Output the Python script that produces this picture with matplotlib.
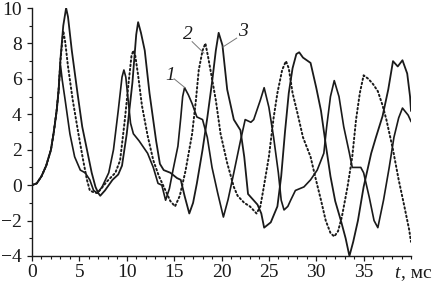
import matplotlib
matplotlib.use("Agg")
import matplotlib.pyplot as plt
from matplotlib.ticker import MultipleLocator

# ---- data (t in ms) ----
t1 = [0, 0.5, 1.0, 1.5, 2.0, 2.3, 2.6, 2.8, 3.0, 3.2, 3.5, 4.0, 4.5, 5.1, 5.6, 6.1, 6.5, 6.9,
      7.4, 8.1, 8.6, 9.1, 9.5, 9.7, 9.9, 10.4, 10.7, 11.3, 12.2, 12.8, 13.3, 13.7, 14.1, 14.5,
      14.9, 15.4, 15.7, 15.9, 16.1, 16.5, 16.9, 17.4, 18.0, 18.5, 19.0, 19.6, 20.2, 20.7, 21.3,
      22.0, 22.5, 23.1, 23.4, 24.1, 24.5, 25.0, 25.5, 26.0, 26.3, 26.6, 27.0, 27.3, 27.8, 28.7,
      29.4, 30.1, 30.8, 31.1, 31.5, 31.9, 32.4, 32.9, 33.5, 33.8, 34.7, 35.0, 35.6, 36.1, 36.5,
      37.1, 37.7, 38.2, 38.7, 39.1, 39.7, 40.0]
y1 = [0, 0.1, 0.5, 1.1, 2.0, 3.0, 4.2, 5.3, 6.8, 5.9, 4.8, 2.9, 1.6, 0.85, 0.7, 0.3, -0.3, -0.45,
      -0.1, 0.7, 2.0, 4.2, 6.1, 6.5, 6.1, 3.5, 2.9, 2.5, 1.8, 1.0, 0.1, 0.0, -0.85, -0.2,
      0.9, 2.2, 3.8, 5.0, 5.5, 5.1, 4.6, 3.85, 3.7, 2.7, 1.0, -0.45, -1.8, -0.8, 0.7,
      2.5, 3.7, 3.55, 3.7, 4.8, 5.5, 4.4, 2.7, 0.7, -0.85, -1.4, -1.2, -0.85, -0.3, -0.1,
      0.3, 0.85, 1.8, 3.3, 5.0, 5.9, 5.0, 3.3, 1.8, 1.0, 1.0, 0.7, -0.7, -2.0, -2.4,
      -0.85, 1.0, 2.7, 3.8, 4.35, 3.95, 3.6]

t2 = [0, 0.5, 1.0, 1.5, 2.0, 2.3, 2.6, 2.8, 3.0, 3.3, 3.5, 3.8, 4.3, 4.9, 5.4, 5.8, 6.1, 6.5,
      6.9, 7.3, 7.9, 8.8, 9.3, 9.8, 10.2, 10.5, 10.7, 10.9, 11.2, 11.6, 12.2, 12.8, 13.4, 14.0,
      14.6, 15.1, 15.6, 16.2, 16.6, 16.9, 17.3, 17.6, 18.0, 18.3, 18.6, 19.0, 19.4, 19.9, 20.6,
      21.3, 21.7, 22.4, 23.0, 23.7, 24.1, 24.4, 25.0, 25.5, 25.9, 26.4, 26.8, 27.1, 27.5, 28.0,
      28.6, 29.4, 29.9, 30.5, 31.0, 31.5, 31.9, 32.3, 32.7, 33.3, 33.8, 34.2, 34.6, 35.0, 35.5,
      36.0, 36.5, 37.0, 37.4, 38.1, 38.7, 39.3, 39.8, 40.0]
y2 = [0, 0.1, 0.5, 1.1, 2.0, 3.0, 4.2, 5.3, 7.0, 8.7, 8.1, 6.7, 4.8, 2.9, 1.4, 0.3, -0.3, -0.4,
      -0.45, -0.2, 0.2, 0.7, 1.4, 3.7, 5.8, 7.3, 7.6, 7.3, 6.2, 4.5, 2.8, 1.4, 0.5, -0.2,
      -0.9, -1.2, -0.6, 0.8, 2.0, 2.9, 4.8, 6.5, 7.6, 8.0, 7.2, 6.0, 4.8, 2.9, 1.25,
      -0.1, -0.6, -1.0, -1.2, -1.6, -1.2, -0.3, 1.6, 3.8, 5.2, 6.5, 7.0, 6.6, 5.2, 4.1,
      2.7, 1.6, 0.45, -0.85, -2.0, -2.7, -2.9, -2.6, -1.8, -0.1, 1.6, 3.7, 5.2, 6.2, 6.0,
      5.7, 5.3, 4.5, 3.7, 2.0, 0.3, -1.2, -2.5, -3.2]

t3 = [0, 0.5, 1.0, 1.5, 2.0, 2.3, 2.6, 2.8, 3.0, 3.3, 3.6, 3.8, 4.2, 4.8, 5.3, 5.8, 6.3, 6.7,
      7.0, 7.2, 7.7, 8.5, 9.1, 9.5, 10.0, 10.6, 11.0, 11.2, 11.5, 11.9, 12.4, 13.1, 13.5, 13.9,
      14.6, 15.3, 15.7, 16.1, 16.6, 17.0, 17.4, 18.0, 18.5, 19.0, 19.4, 19.7, 20.1, 20.6, 21.3,
      22.0, 22.4, 22.8, 23.3, 23.8, 24.2, 24.5, 25.2, 25.9, 26.3, 26.7, 27.1, 27.5, 27.9, 28.2,
      28.6, 29.4, 30.0, 30.5, 31.0, 31.5, 32.0, 32.6, 33.1, 33.5, 33.9, 34.4, 35.0, 35.8, 36.3,
      37.0, 37.6, 38.1, 38.6, 39.1, 39.6, 39.9, 40.0]
y3 = [0, 0.1, 0.5, 1.1, 2.0, 3.0, 4.2, 5.3, 7.1, 9.0, 10.0, 9.5, 7.6, 5.2, 3.3, 2.0, 0.7, -0.1,
      -0.45, -0.6, -0.3, 0.3, 0.6, 1.1, 2.9, 5.8, 8.5, 9.2, 8.6, 7.6, 5.2, 2.5, 1.2, 0.85,
      0.7, 0.4, 0.3, -0.6, -1.6, -1.0, 0.1, 2.0, 3.8, 5.8, 7.6, 8.6, 7.9, 5.4, 3.7,
      3.1, 1.6, -0.5, -0.8, -1.1, -1.6, -2.4, -2.1, -1.2, 0.5, 3.0, 5.2, 6.6, 7.4, 7.5,
      7.2, 6.9, 5.5, 4.2, 2.3, 0.5, -0.9, -2.0, -3.0, -4.0, -3.2, -2.0, -0.1, 1.8, 2.7,
      3.9, 5.4, 7.0, 6.7, 7.05, 6.3, 5.0, 4.2]

x_ticks = [0, 5, 10, 15, 20, 25, 30, 35]
y_ticks = [-4, -2, 0, 2, 4, 6, 8, 10]
curve_labels = ["1", "2", "3"]

serif = ["Liberation Serif", "DejaVu Serif"]
plt.rcParams['font.family'] = serif

fig = plt.figure(figsize=(4.35, 2.84), dpi=100)
ax = fig.add_axes([32/435, 1-256/284, (411-32)/435, (256-8)/284])

ink = "#1a1a1a"
ax.plot(t1, y1, color=ink, lw=1.2, solid_joinstyle="round")
ax.plot(t2, y2, color=ink, lw=1.4, linestyle=(0, (0.8, 1.4)), dash_capstyle="round")
ax.plot(t3, y3, color=ink, lw=1.3, solid_joinstyle="round")

ax.set_xlim(0, 40)
ax.set_ylim(-4, 10)
ax.set_xticks(x_ticks)
ax.set_yticks(y_ticks)
ax.set_xticklabels([str(v) for v in x_ticks])
ax.set_yticklabels([str(v).replace("-", "\u2212") for v in y_ticks])
ax.xaxis.set_minor_locator(MultipleLocator(1))
ax.yaxis.set_minor_locator(MultipleLocator(1))
for s in ("top", "right"):
    ax.spines[s].set_visible(False)
for s in ("left", "bottom"):
    ax.spines[s].set_linewidth(1.0)
    ax.spines[s].set_color(ink)
ax.tick_params(which="major", direction="out", length=3.5, width=0.9, colors=ink,
               labelsize=14, pad=2)
ax.tick_params(which="minor", direction="out", length=2.2, width=0.8, colors=ink)
ax.tick_params(axis="y", which="major", pad=4)

# curve labels with leader lines
lab_pos = [(14.6, 6.2), (16.4, 8.5), (22.3, 8.65)]
lead_from = [(15.0, 6.0), (16.9, 8.1), (21.6, 8.3)]
lead_to = [(16.15, 5.5), (18.15, 7.45), (20.15, 7.8)]
for lab, p, a, b in zip(curve_labels, lab_pos, lead_from, lead_to):
    ax.text(p[0], p[1], lab, fontsize=14, style="italic", ha="center", va="center", color=ink)
    ax.plot([a[0], b[0]], [a[1], b[1]], color="#777777", lw=0.7)

# axis label
fig.text(397/435, 1-273/284, "t", fontsize=14, style="italic", ha="center", va="center", color=ink)
fig.text(401/435, 1-273/284, ", мс", fontsize=14, ha="left", va="center", color=ink)

fig.savefig("out.png", dpi=100)
